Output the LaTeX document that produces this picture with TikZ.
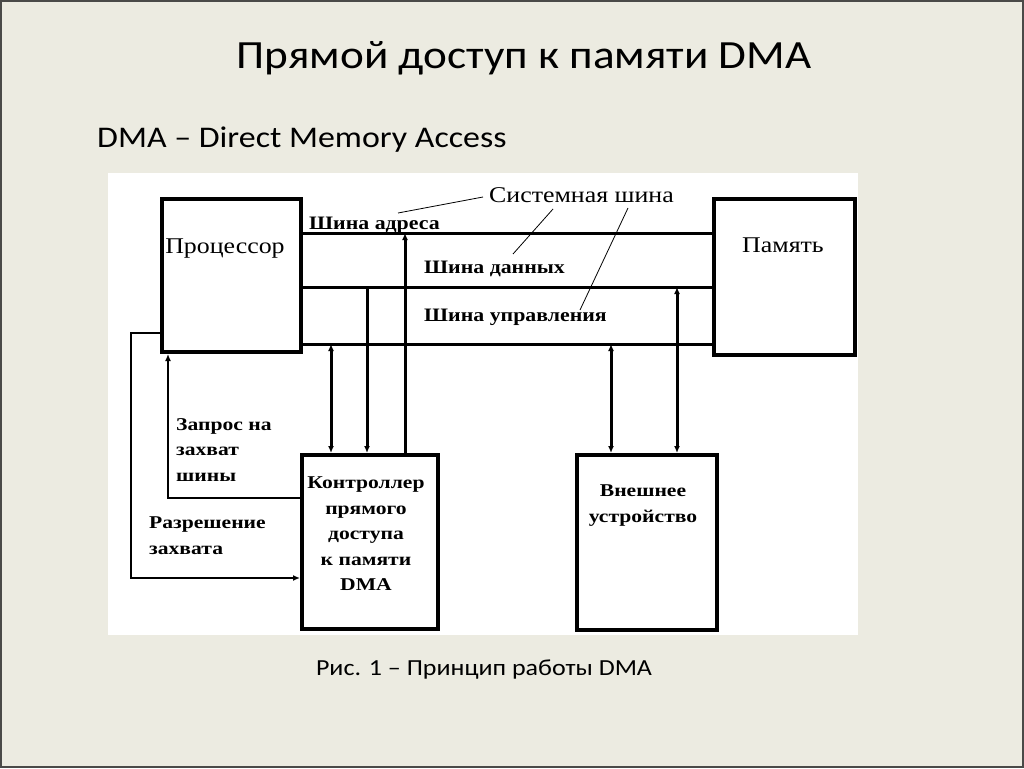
\documentclass[tikz,border=0pt]{standalone}
\usepackage{fontspec}
\setmainfont[FakeStretch=1.13]{Carlito}
\newfontfamily\dserif[FakeStretch=1.15]{Liberation Serif}
\newfontfamily\dserifw[FakeStretch=1.2]{Liberation Serif}
\usetikzlibrary{arrows.meta}
\definecolor{slidebg}{HTML}{ECEBE1}
\definecolor{slideedge}{HTML}{4A4A48}
\begin{document}
\begin{tikzpicture}[x=1pt,y=-1pt,
  box/.style={draw,line width=4pt,inner sep=0pt,anchor=north west},
  bus/.style={line width=3pt},
  wire/.style={line width=3pt},
  fb/.style={line width=2.5pt},
  tip/.style={-{Latex[length=7pt,width=6pt]}},
  tips/.style={{Latex[length=7pt,width=6pt]}-{Latex[length=7pt,width=6pt]}},
  leader/.style={line width=0.8pt},
  reg/.style={inner sep=0pt,font=\dserif\fontsize{22.5}{26}\selectfont},
  bld/.style={inner sep=0pt,font=\dserif\bfseries\fontsize{19}{22}\selectfont},
  blk/.style={inner sep=0pt,font=\dserifw\bfseries\fontsize{18}{25.5}\selectfont},
]
\useasboundingbox (0,0) rectangle (1024,768);
\fill[slidebg] (0,0) rectangle (1024,768);
\draw[slideedge,line width=2pt] (1,1) rectangle (1023,767);
\fill[white] (108,173) rectangle (858,635);

% titles
\node[inner sep=0pt,anchor=base,font=\fontsize{40}{44}\selectfont] (title) at (524,68) {Прямой доступ к памяти DMA};
\node[inner sep=0pt,anchor=base west,font=\fontsize{30}{34}\selectfont] (sub) at (97,147) {DMA – Direct Memory Access};
\node[inner sep=0pt,anchor=base,font=\fontsize{23}{27}\selectfont] (cap) at (484,675) {Рис. 1 – Принцип работы DMA};

% boxes
\node[box,minimum width=139,minimum height=153] (cpu) at (160,197) {};
\node[box,minimum width=141,minimum height=156] (mem) at (712,197) {};
\node[box,minimum width=136,minimum height=174] (dma) at (300,453) {};
\node[box,minimum width=140,minimum height=175] (ext) at (575,453) {};

\node[reg,anchor=base] (cput) at (225,253) {Процессор};
\node[reg,anchor=base] (memt) at (783,252) {Память};
\node[blk,align=center,anchor=north] (dmat) at (366,477) {Контроллер\\прямого\\доступа\\к памяти\\DMA};
\node[blk,align=center,anchor=north] (extt) at (643,485) {Внешнее\\устройство};

% bus levels and wire columns
\coordinate (yA) at (0,233);
\coordinate (yD) at (0,287);
\coordinate (yC) at (0,344);
\coordinate (x1) at (331,0);
\coordinate (x2) at (367,0);
\coordinate (x3) at (405,0);
\coordinate (x4) at (611,0);
\coordinate (x5) at (677,0);

\draw[bus] (cpu.east |- yA) -- (mem.west |- yA);
\draw[bus] (cpu.east |- yD) -- (mem.west |- yD);
\draw[bus] (cpu.east |- yC) -- (mem.west |- yC);

\draw[wire,tips] (x1 |- yC) -- (x1 |- dma.north);
\draw[wire,tip] (x2 |- yD) -- (x2 |- dma.north);
\draw[wire,tip] (x3 |- dma.north) -- (x3 |- yA);
\draw[wire,tips] (x4 |- yC) -- (x4 |- ext.north);
\draw[wire,tips] (x5 |- yD) -- (x5 |- ext.north);

% bus labels
\node[bld,anchor=base west] (la) at (309,229) {Шина адреса};
\node[bld,anchor=base west] (ld) at (424,273) {Шина данных};
\node[bld,anchor=base west] (lc) at (424,321) {Шина управления};
\node[reg,anchor=base west] (sys) at (489,202) {Системная шина};

\coordinate (s1) at (483,197);
\coordinate (s2) at (553,209);
\coordinate (s3) at (628,208);
\coordinate (p1) at (398,213);
\coordinate (p2) at (513,254);
\coordinate (p3) at (580,310);
\draw[leader] (s1) -- (p1);
\draw[leader] (s2) -- (p2);
\draw[leader] (s3) -- (p3);

% request / grant
\coordinate (xr) at (168,0);
\coordinate (yr) at (0,498);
\coordinate (xg) at (131,0);
\coordinate (yg0) at (0,333);
\coordinate (yg) at (0,578);
\draw[fb,tip] (dma.west |- yr) -- (xr |- yr) -- (xr |- cpu.south);
\draw[fb,tip] (cpu.west |- yg0) -- (xg |- yg0) -- (xg |- yg) -- (dma.west |- yg);

\node[blk,align=left,anchor=north west] (req) at (176,418) {Запрос на\\захват\\шины};
\node[blk,align=left,anchor=north west] (grant) at (149,517) {Разрешение\\захвата};
\end{tikzpicture}
\end{document}
